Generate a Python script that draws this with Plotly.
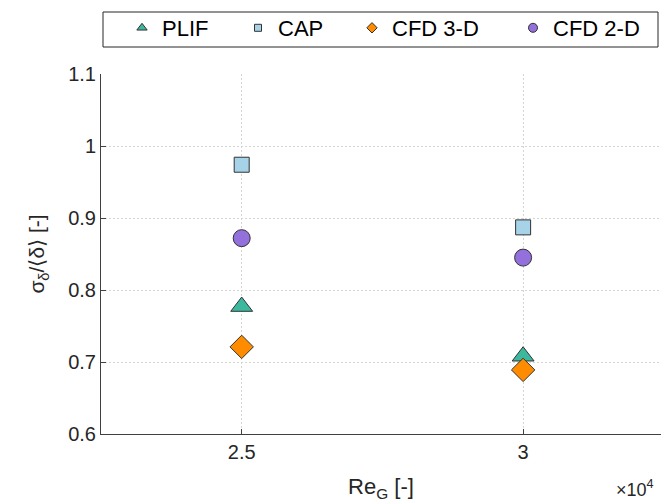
import plotly.graph_objects as go

re_g = [25000, 30000]
plif = [0.777, 0.708]
cap = [0.974, 0.887]
cfd3d = [0.721, 0.689]
cfd2d = [0.872, 0.845]

series_names = ["PLIF", "CAP", "CFD 3-D", "CFD 2-D"]
series_values = [plif, cap, cfd3d, cfd2d]
symbols = ["triangle-up", "square", "diamond", "circle"]
colors = ["#3BB89E", "#A6D3E8", "#FF8C00", "#9370DB"]
plot_sizes = [19, 15, 18, 17]
legend_sizes = [9, 7, 8, 9]
legend_x_px = [122, 238, 352, 513]

x_tickvals = [25000, 30000]
x_ticktext = ["2.5", "3"]
y_tickvals = [0.6, 0.7, 0.8, 0.9, 1.0, 1.1]
y_ticktext = ["0.6", "0.7", "0.8", "0.9", "1", "1.1"]

W, H = 662, 504
ML, MR, MT, MB = 101, 1, 74, 70
PW, PH = W - ML - MR, H - MT - MB

def px_x(px):
    return (px - ML) / PW

def px_y(py):
    return 1 + (MT - py) / PH

edge = dict(color="#333333", width=1)
fig = go.Figure()
legend_ids = ["legend", "legend2", "legend3", "legend4"]
for name, vals, sym, col, ps in zip(series_names, series_values, symbols, colors, plot_sizes):
    fig.add_trace(go.Scatter(x=re_g, y=vals, mode="markers", name=name, showlegend=False,
                             marker=dict(symbol=sym, size=ps, color=col, line=edge)))
for name, sym, col, ls, lid in zip(series_names, symbols, colors, legend_sizes, legend_ids):
    fig.add_trace(go.Scatter(x=[None], y=[None], mode="markers", name=name, showlegend=True,
                             legend=lid,
                             marker=dict(symbol=sym, size=ls, color=col, line=edge)))

font = "Liberation Sans, Arial, sans-serif"
legend_common = dict(orientation="h", xanchor="left", yanchor="middle",
                     y=px_y(28), borderwidth=0, bgcolor="rgba(0,0,0,0)",
                     font=dict(size=22, color="black", family=font))
layout_legends = {}
for lid, lx in zip(legend_ids, legend_x_px):
    layout_legends[lid] = dict(legend_common, x=px_x(lx))

fig.update_layout(
    width=W, height=H,
    margin=dict(l=ML, r=MR, t=MT, b=MB, autoexpand=False),
    plot_bgcolor="white", paper_bgcolor="white",
    font=dict(family=font, size=20, color="#262626"),
    showlegend=True,
    xaxis=dict(range=[22500, 32450], tickvals=x_tickvals, ticktext=x_ticktext,
               showgrid=True, gridcolor="#D4D4D4", griddash="2px,2px", gridwidth=1,
               showline=True, linecolor="#404040", linewidth=1,
               ticks="inside", ticklen=5, tickcolor="#404040",
               zeroline=False, tickfont=dict(size=20, color="#262626"),
               title=dict(text="Re<sub>G</sub> [-]", font=dict(size=22, color="#262626"), standoff=16)),
    yaxis=dict(range=[0.6, 1.1], tickvals=y_tickvals, ticktext=y_ticktext,
               showgrid=True, gridcolor="#D4D4D4", griddash="2px,2px", gridwidth=1,
               showline=True, linecolor="#404040", linewidth=1,
               ticks="inside", ticklen=5, tickcolor="#404040",
               zeroline=False, tickfont=dict(size=20, color="#262626"),
               title=dict(text="σ<sub>δ</sub>/⟨δ⟩ [-]", font=dict(size=21, color="#262626"), standoff=17)),
    **layout_legends,
)
fig.add_shape(type="rect", xref="paper", yref="paper",
              x0=px_x(103), x1=px_x(658), y0=px_y(47), y1=px_y(12),
              line=dict(color="#262626", width=1), fillcolor="rgba(0,0,0,0)", layer="above")
fig.add_annotation(text="×10<sup>4</sup>", xref="paper", yref="paper", x=px_x(614), y=px_y(489),
                   xanchor="left", yanchor="middle", showarrow=False,
                   font=dict(size=18, color="#262626"))
fig.write_html("out.html", config={"displayModeBar": False},
               post_script="document.body.style.margin='0';")
